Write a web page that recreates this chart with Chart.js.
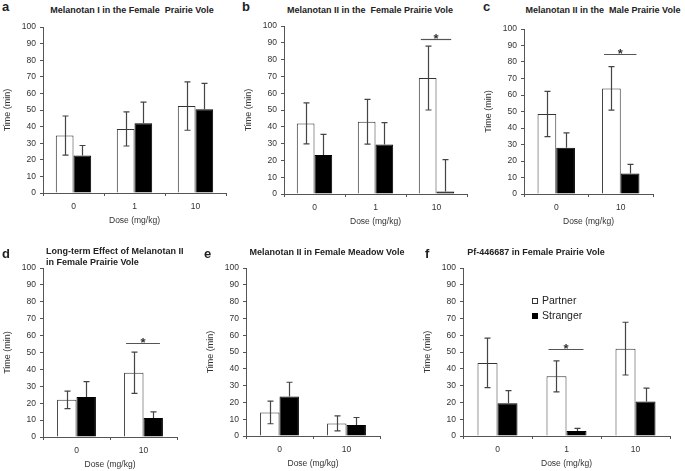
<!DOCTYPE html>
<html>
<head>
<meta charset="utf-8">
<script src="https://cdn.jsdelivr.net/npm/chart.js@4.4.0/dist/chart.umd.min.js"></script>
<style>
  html, body { margin: 0; padding: 0; background: #fff; }
  #fig { position: relative; width: 685px; height: 471px; overflow: hidden;
         font-family: "Liberation Sans", Arial, sans-serif; color: #222; }
  #fig canvas { position: absolute; }
  .lab { position: absolute; font-weight: bold; font-size: 13px; line-height: 13px; }
  .ttl { position: absolute; font-weight: bold; font-size: 9px; line-height: 11px; white-space: nowrap; }
  .ctr { transform: translateX(-50%); }
</style>
</head>
<body>
<div id="fig">
  <canvas id="chartA"></canvas>
  <canvas id="chartB"></canvas>
  <canvas id="chartC"></canvas>
  <canvas id="chartD"></canvas>
  <canvas id="chartE"></canvas>
  <canvas id="chartF"></canvas>

  <div class="lab" style="left:2px;top:0px">a</div>
  <div class="lab" style="left:242px;top:0px">b</div>
  <div class="lab" style="left:483px;top:0px">c</div>
  <div class="lab" style="left:2px;top:247px">d</div>
  <div class="lab" style="left:204px;top:247px">e</div>
  <div class="lab" style="left:425px;top:247px">f</div>

  <div class="ttl ctr" style="left:132px;top:5px">Melanotan I in the Female&nbsp; Prairie Vole</div>
  <div class="ttl ctr" style="left:370px;top:5px">Melanotan II in the&nbsp; Female Prairie Vole</div>
  <div class="ttl ctr" style="left:603px;top:5px">Melanotan II in the&nbsp; Male Prairie Vole</div>
  <div class="ttl" style="left:46px;top:246px">Long-term Effect of Melanotan II<br>in Female Prairie Vole</div>
  <div class="ttl ctr" style="left:327px;top:247px">Melanotan II in Female Meadow Vole</div>
  <div class="ttl ctr" style="left:536px;top:247px">Pf-446687 in Female Prairie Vole</div>
</div>

<script>
// panel a - Melanotan I, female prairie vole
const dosesA = ['0', '1', '10'];
const partnerA = [34.6, 38.6, 52.4];
const strangerA = [22.6, 42, 50.4];
const partnerErrA = [11.8, 10.3, 14.6];
const strangerErrA = [6, 12.8, 15.6];

// panel b - Melanotan II, female prairie vole
const dosesB = ['0', '1', '10'];
const partnerB = [42, 43, 69];
const strangerB = [23.2, 29.5, 1.5];
const partnerErrB = [12.2, 13.3, 19];
const strangerErrB = [12.3, 13, 19];
const sigB = [2, 92];   // [category index, line level]

// panel c - Melanotan II, male prairie vole
const dosesC = ['0', '10'];
const partnerC = [48.5, 64];
const strangerC = [28, 12.5];
const partnerErrC = [13.7, 13.2];
const strangerErrC = [9, 5.5];
const sigC = [1, 85];

// panel d - long-term effect
const dosesD = ['0', '10'];
const partnerD = [22, 38];
const strangerD = [23.7, 11.3];
const partnerErrD = [5.2, 12.2];
const strangerErrD = [9.1, 3.6];
const sigD = [1, 55.5];

// panel e - female meadow vole
const dosesE = ['0', '10'];
const partnerE = [14, 7.5];
const strangerE = [23.5, 6.5];
const partnerErrE = [6.7, 4.5];
const strangerErrE = [8.5, 4.5];

// panel f - Pf-446687
const dosesF = ['0', '1', '10'];
const partnerF = [43.5, 35.5, 52];
const strangerF = [19.5, 3, 20.5];
const partnerErrF = [14.7, 9.2, 15.7];
const strangerErrF = [7.5, 1.5, 8];
const sigF = [1, 52];

const yTicks = { min: 0, max: 100, step: 10 };

Chart.defaults.font.family = '"Liberation Sans", Arial, sans-serif';
Chart.defaults.color = '#333';

const AXIS = '#555';

// error bars: partner both ways, stranger only upward
const errorBars = {
  id: 'errorBars',
  afterDatasetsDraw(chart) {
    const ctx = chart.ctx;
    const y = chart.scales.y;
    chart.data.datasets.forEach((ds, i) => {
      const meta = chart.getDatasetMeta(i);
      meta.data.forEach((bar, j) => {
        const v = ds.data[j], e = ds.err[j];
        const x = Math.round(bar.x) + 0.5;
        const top = y.getPixelForValue(v + e);
        const bot = ds.errBoth ? y.getPixelForValue(Math.max(v - e, 0)) : bar.y;
        ctx.save();
        ctx.strokeStyle = '#444';
        ctx.lineWidth = 1.2;
        ctx.beginPath();
        ctx.moveTo(x, top); ctx.lineTo(x, bot);
        ctx.moveTo(x - 3, top); ctx.lineTo(x + 3, top);
        if (ds.errBoth) { ctx.moveTo(x - 3, bot); ctx.lineTo(x + 3, bot); }
        ctx.stroke();
        ctx.restore();
      });
    });
  }
};

// significance line with asterisk
const sigMark = {
  id: 'sigMark',
  afterDatasetsDraw(chart, args, opts) {
    if (!opts.mark) return;
    const [idx, level] = opts.mark;
    const ctx = chart.ctx;
    const y = Math.round(chart.scales.y.getPixelForValue(level)) + 0.5;
    const w = chart.getDatasetMeta(0).data[idx];
    const b = chart.getDatasetMeta(1).data[idx];
    const x1 = w.x - w.width / 2 + 2;
    const x2 = b.x + b.width / 2 - 3;
    ctx.save();
    ctx.strokeStyle = '#555';
    ctx.lineWidth = 1.2;
    ctx.beginPath();
    ctx.moveTo(x1, y); ctx.lineTo(x2, y);
    ctx.stroke();
    ctx.fillStyle = '#333';
    ctx.font = 'bold 13px "Liberation Sans", Arial, sans-serif';
    ctx.textAlign = 'center';
    ctx.textBaseline = 'alphabetic';
    ctx.fillText('*', (x1 + x2) / 2, y + 3);
    ctx.restore();
  }
};

// small square legend inside panel f
const boxLegend = {
  id: 'boxLegend',
  afterDraw(chart, args, opts) {
    if (!opts.show) return;
    const ctx = chart.ctx;
    const area = chart.chartArea;
    ctx.save();
    ctx.font = '10.5px "Liberation Sans", Arial, sans-serif';
    ctx.textBaseline = 'middle';
    chart.data.datasets.forEach((ds, i) => {
      const bx = area.left + opts.left;
      const by = area.top + opts.top + i * 15;
      ctx.fillStyle = ds.backgroundColor;
      ctx.fillRect(bx, by, 6, 6);
      ctx.strokeStyle = ds.borderColor;
      ctx.lineWidth = 1;
      ctx.strokeRect(bx + 0.5, by + 0.5, 5, 5);
      ctx.fillStyle = '#222';
      ctx.fillText(ds.label, bx + 10, by + 3);
    });
    ctx.restore();
  }
};

function makePanel(id, area, labels, partner, stranger, partnerErr, strangerErr, sig, legend) {
  const cv = document.getElementById(id);
  const left = area.l - 43;
  const top = area.t - 10;
  cv.width = area.r - left + 2;
  cv.height = area.b - top + 36;
  cv.style.left = left + 'px';
  cv.style.top = top + 'px';

  return new Chart(cv, {
    type: 'bar',
    data: {
      labels: labels,
      datasets: [
        { label: 'Partner', data: partner, err: partnerErr, errBoth: true,
          backgroundColor: '#ffffff', borderColor: '#333', borderWidth: 1 },
        { label: 'Stranger', data: stranger, err: strangerErr, errBoth: false,
          backgroundColor: '#000000', borderColor: '#000000', borderWidth: 1 }
      ]
    },
    options: {
      responsive: false,
      animation: false,
      layout: { padding: { top: 10, right: 2, left: 0, bottom: 0 } },
      datasets: { bar: { categoryPercentage: 0.58, barPercentage: 1.0 } },
      plugins: {
        legend: { display: false },
        tooltip: { enabled: false },
        sigMark: { mark: sig },
        boxLegend: legend || { show: false }
      },
      scales: {
        x: {
          afterFit: (s) => { s.height = 36; },
          grid: { display: true, drawOnChartArea: false, offset: true, tickLength: 3, color: AXIS },
          border: { display: true, color: AXIS, width: 1 },
          ticks: { font: { size: 8.5 }, color: '#333', padding: 6 },
          title: { display: true, text: 'Dose (mg/kg)', font: { size: 8.5 }, color: '#333',
                   padding: { top: 0, bottom: 3 } }
        },
        y: {
          min: yTicks.min,
          max: yTicks.max,
          afterFit: (s) => { s.width = 43; },
          grid: { display: true, drawOnChartArea: false, tickLength: 3, color: AXIS },
          border: { display: true, color: AXIS, width: 1 },
          ticks: { stepSize: yTicks.step, font: { size: 8.5 }, color: '#333', padding: 4 },
          title: { display: true, text: 'Time (min)', font: { size: 9 }, color: '#333',
                   padding: { top: 2, bottom: 0 } }
        }
      }
    },
    plugins: [errorBars, sigMark, boxLegend]
  });
}

makePanel('chartA', { l: 43, t: 27, r: 226, b: 193 }, dosesA, partnerA, strangerA, partnerErrA, strangerErrA, null);
makePanel('chartB', { l: 284, t: 26, r: 467, b: 194 }, dosesB, partnerB, strangerB, partnerErrB, strangerErrB, sigB);
makePanel('chartC', { l: 524, t: 29, r: 653, b: 194 }, dosesC, partnerC, strangerC, partnerErrC, strangerErrC, sigC);
makePanel('chartD', { l: 43, t: 268, r: 177, b: 437 }, dosesD, partnerD, strangerD, partnerErrD, strangerErrD, sigD);
makePanel('chartE', { l: 246, t: 268, r: 380, b: 436 }, dosesE, partnerE, strangerE, partnerErrE, strangerErrE, null);
makePanel('chartF', { l: 463, t: 268, r: 670, b: 436 }, dosesF, partnerF, strangerF, partnerErrF, strangerErrF, sigF,
          { show: true, left: 69, top: 30 });
</script>
</body>
</html>
